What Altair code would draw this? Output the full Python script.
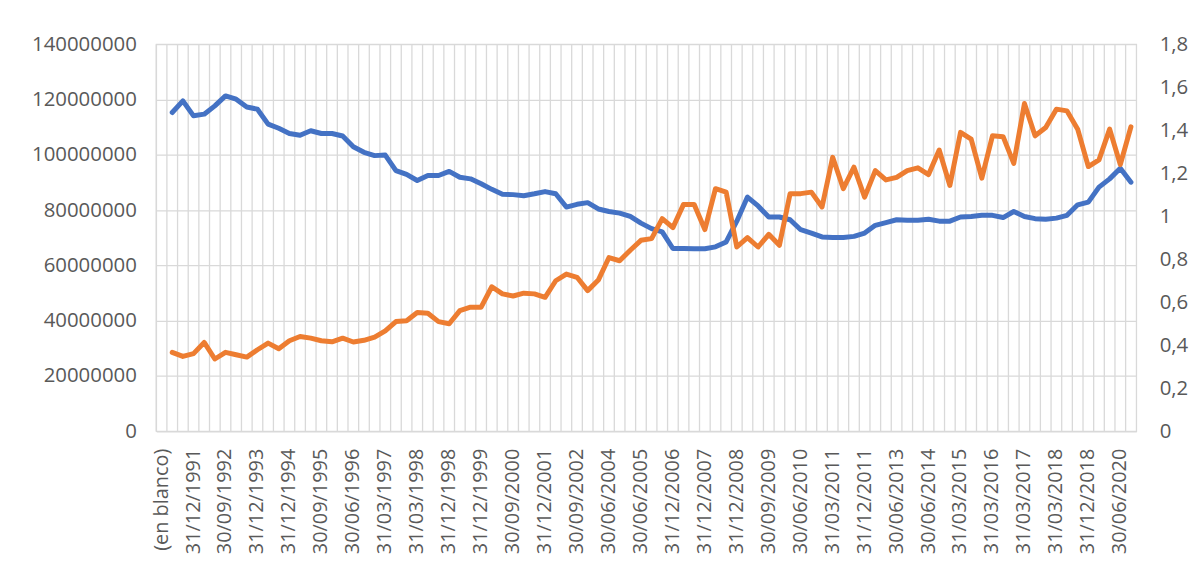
import json
import altair as alt
import pandas as pd

categories = [
    "(en blanco)", "30/06/1991", "30/09/1991", "31/12/1991",
    "31/03/1992", "30/06/1992", "30/09/1992",
    "31/12/1992", "30/06/1993", "31/12/1993",
    "31/03/1994", "30/09/1994", "31/12/1994",
    "31/03/1995", "30/06/1995", "30/09/1995",
    "31/12/1995", "31/03/1996", "30/06/1996",
    "30/09/1996", "31/12/1996", "31/03/1997",
    "30/06/1997", "31/12/1997", "31/03/1998",
    "30/06/1998", "30/09/1998", "31/12/1998",
    "31/03/1999", "30/09/1999", "31/12/1999",
    "31/03/2000", "30/06/2000", "30/09/2000",
    "31/03/2001", "30/09/2001", "31/12/2001",
    "31/03/2002", "30/06/2002", "30/09/2002",
    "30/06/2003", "31/12/2003", "30/06/2004",
    "30/09/2004", "31/12/2004", "30/06/2005",
    "31/12/2005", "30/06/2006", "31/12/2006",
    "31/03/2007", "30/06/2007", "31/12/2007",
    "31/03/2008", "30/06/2008", "31/12/2008",
    "31/03/2009", "30/06/2009", "30/09/2009",
    "31/12/2009", "31/03/2010", "30/06/2010",
    "30/09/2010", "31/12/2010", "31/03/2011",
    "30/06/2011", "30/09/2011", "31/12/2011",
    "30/06/2012", "31/12/2012", "30/06/2013",
    "30/09/2013", "31/12/2013", "30/06/2014",
    "30/09/2014", "31/12/2014", "31/03/2015",
    "30/06/2015", "30/09/2015", "31/03/2016",
    "30/06/2016", "30/09/2016", "31/03/2017",
    "30/06/2017", "30/09/2017", "31/03/2018",
    "30/06/2018", "30/09/2018", "31/12/2018",
    "30/06/2019", "31/12/2019", "30/06/2020",
    "30/09/2020",
]

# Left-axis series (values in millions), one per dated category
total_millones = [
    115.3, 119.5, 114.1, 114.7, 117.7, 121.3, 120.1, 117.3, 116.5, 111.1,
    109.6, 107.7, 107.1, 108.7, 107.7, 107.7, 106.8, 102.9, 100.9, 99.7,
    99.9, 94.3, 92.9, 90.7, 92.5, 92.5, 94.0, 91.9, 91.3, 89.5,
    87.5, 85.7, 85.6, 85.2, 85.9, 86.7, 85.9, 81.1, 82.1, 82.7,
    80.4, 79.5, 78.9, 77.7, 75.3, 73.3, 72.1, 66.1, 66.1, 66.0,
    66.0, 66.7, 68.5, 76.0, 84.7, 81.5, 77.5, 77.5, 76.5, 72.9,
    71.7, 70.3, 70.1, 70.1, 70.5, 71.7, 74.5, 75.5, 76.5, 76.3,
    76.3, 76.7, 76.0, 76.0, 77.5, 77.7, 78.1, 78.1, 77.3, 79.5,
    77.7, 76.9, 76.7, 77.1, 78.1, 81.9, 82.9, 88.3, 91.3, 95.1,
    90.1,
]

# Right-axis series
ratio = [
    0.367, 0.348, 0.361, 0.413, 0.336, 0.367, 0.356, 0.345, 0.379, 0.410,
    0.384, 0.421, 0.441, 0.433, 0.421, 0.416, 0.433, 0.415, 0.423, 0.438,
    0.467, 0.510, 0.514, 0.552, 0.549, 0.510, 0.500, 0.561, 0.577, 0.577,
    0.672, 0.639, 0.629, 0.642, 0.639, 0.623, 0.700, 0.731, 0.716, 0.654,
    0.703, 0.808, 0.793, 0.842, 0.888, 0.896, 0.989, 0.947, 1.055, 1.055,
    0.938, 1.128, 1.112, 0.857, 0.901, 0.857, 0.916, 0.865, 1.105, 1.105,
    1.112, 1.043, 1.274, 1.128, 1.228, 1.089, 1.212, 1.169, 1.181, 1.212,
    1.225, 1.194, 1.308, 1.143, 1.390, 1.359, 1.177, 1.374, 1.370, 1.246,
    1.524, 1.374, 1.413, 1.498, 1.490, 1.405, 1.231, 1.262, 1.405, 1.240,
    1.416,
]

left_ticks = [0, 20000000, 40000000, 60000000, 80000000, 100000000, 120000000, 140000000]
right_ticks = [0, 0.2, 0.4, 0.6, 0.8, 1.0, 1.2, 1.4, 1.6, 1.8]
label_categories = categories[0::3]

df = pd.DataFrame({
    "fecha": categories[1:],
    "total": [v * 1_000_000 for v in total_millones],
    "ratio": ratio,
})
grid_df = pd.DataFrame({"fecha": categories})

FONT = "Open Sans"
LABEL_COLOR = "#595959"
GRID_COLOR = "#d9d9d9"

label_expr = (
    "indexof(" + json.dumps(label_categories) + ", datum.value) >= 0 ? datum.value : ''"
)

x_scale = alt.Scale(type="band", domain=categories, paddingInner=0, paddingOuter=0)
x_axis = alt.Axis(
    title=None, labelExpr=label_expr, labelAngle=-90, labelAlign="right",
    labelBaseline="middle", ticks=False, tickSize=0, domain=False, grid=False,
    labelPadding=17, labelFontSize=20, labelFont=FONT, labelColor=LABEL_COLOR,
    labelOverlap=False, bandPosition=0.5,
)

vgrid = alt.Chart(grid_df).mark_rule(color=GRID_COLOR, strokeWidth=1.3).encode(
    x=alt.X("fecha:N", scale=x_scale, bandPosition=0, axis=x_axis, sort=categories)
)

blue = alt.Chart(df).mark_line(
    color="#4472C4", strokeWidth=5, strokeJoin="round", strokeCap="round"
).encode(
    x=alt.X("fecha:N", scale=x_scale, bandPosition=0.5, axis=x_axis, sort=categories),
    y=alt.Y(
        "total:Q",
        scale=alt.Scale(domain=[0, 140000000], nice=False, zero=True),
        axis=alt.Axis(
            title=None, orient="left", values=left_ticks, format="d",
            grid=True, gridColor=GRID_COLOR, gridWidth=1.3, ticks=False, tickSize=0,
            domain=False, labelPadding=20, labelFontSize=20.5, labelFont=FONT,
            labelColor=LABEL_COLOR,
        ),
    ),
)

orange = alt.Chart(df).mark_line(
    color="#ED7D31", strokeWidth=5, strokeJoin="round", strokeCap="round"
).encode(
    x=alt.X("fecha:N", scale=x_scale, bandPosition=0.5, axis=x_axis, sort=categories),
    y=alt.Y(
        "ratio:Q",
        scale=alt.Scale(domain=[0, 1.8], nice=False, zero=True),
        axis=alt.Axis(
            title=None, orient="right", values=right_ticks,
            labelExpr="replace(format(datum.value, '~g'), '.', ',')",
            grid=False, ticks=False, tickSize=0, domain=False, labelPadding=23,
            labelFontSize=20.5, labelFont=FONT, labelColor=LABEL_COLOR,
        ),
    ),
)

chart = (
    alt.layer(vgrid, blue, orange)
    .resolve_scale(y="independent")
    .properties(
        width=985, height=389,
        autosize=alt.AutoSizeParams(type="none"),
        padding={"left": 149, "top": 35, "right": 54, "bottom": 130},
        background="white",
    )
    .configure_view(stroke=GRID_COLOR, strokeWidth=1.3)
)

chart.save("out.html", embed_options={"renderer": "svg", "actions": False})
